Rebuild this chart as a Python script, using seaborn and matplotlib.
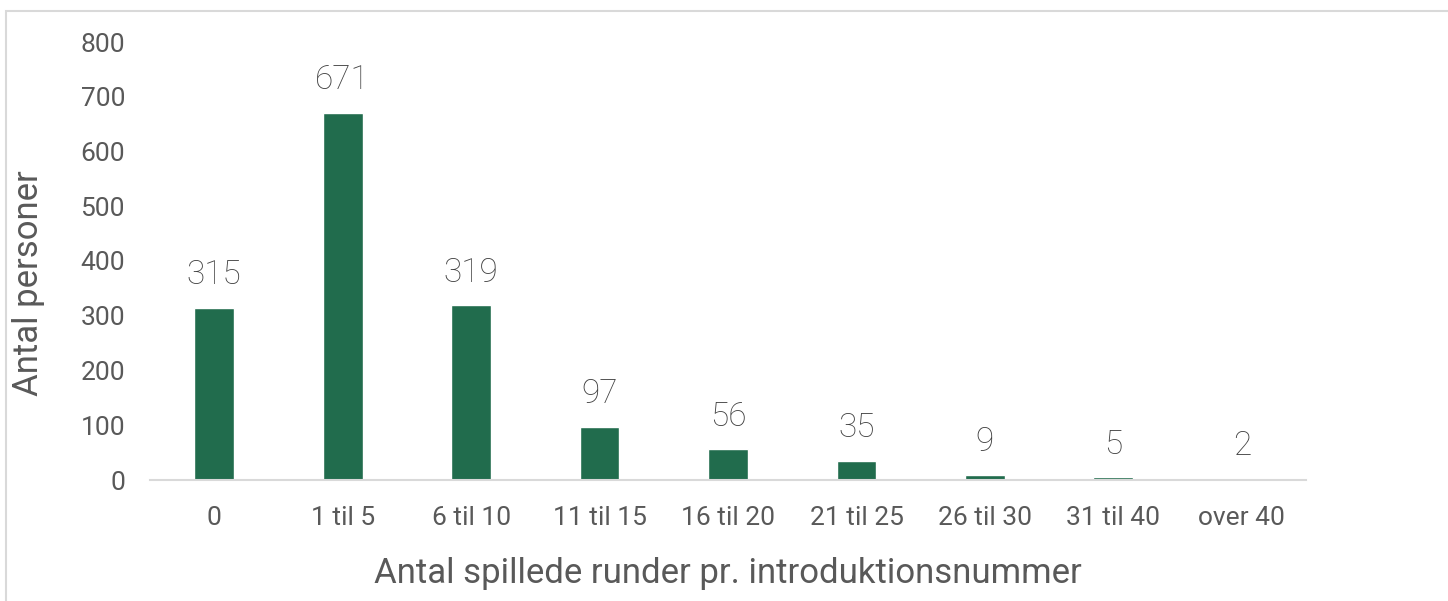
import matplotlib
matplotlib.use("Agg")
import matplotlib.pyplot as plt
import seaborn as sns
from matplotlib.patches import Rectangle

categories = ["0", "1 til 5", "6 til 10", "11 til 15", "16 til 20",
              "21 til 25", "26 til 30", "31 til 40", "over 40"]
persons = [315, 671, 319, 97, 56, 35, 9, 5, 2]
y_ticks = [0, 100, 200, 300, 400, 500, 600, 700, 800]

bar_color = "#216C4D"
text_grey = "#595959"
label_grey = "#404040"
line_grey = "#D9D9D9"

sns.set_theme(style="white")
plt.rcParams["font.family"] = ["Roboto", "DejaVu Sans"]

fig = plt.figure(figsize=(14.48, 6.01), dpi=100)
ax = fig.add_axes([150 / 1448, 121 / 601, 1156 / 1448, 438 / 601])

sns.barplot(x=categories, y=persons, color=bar_color, saturation=1,
            width=0.31, ax=ax)

# value labels above bars
ax.bar_label(ax.containers[0], labels=[str(v) for v in persons],
             padding=12, fontsize=24, color=label_grey, fontweight="light")

ax.set_ylim(0, 800)
ax.set_yticks(y_ticks)
ax.set_xlim(-0.5, len(categories) - 0.5)
ax.tick_params(axis="y", length=0, pad=18, labelsize=19, labelcolor=text_grey)
ax.tick_params(axis="x", length=0, pad=19, labelsize=19, labelcolor=text_grey)

for side in ["top", "right", "left"]:
    ax.spines[side].set_visible(False)
ax.spines["bottom"].set_color(line_grey)
ax.spines["bottom"].set_linewidth(1.5)

ax.set_ylabel("Antal personer", fontsize=25, color=text_grey)
ax.yaxis.set_label_coords(-0.091, 0.45)
ax.set_xlabel("Antal spillede runder pr. introduktionsnummer",
              fontsize=25, color=text_grey)
ax.xaxis.set_label_coords(0.5, -0.175)

# outer chart frame (cut off at right and bottom)
fig.patches.append(Rectangle((6 / 1448, -0.05), 1.1, (601 - 11) / 601 + 0.05,
                             transform=fig.transFigure, fill=False,
                             edgecolor=line_grey, linewidth=1.5,
                             clip_on=False))

fig.savefig("out.png", dpi=100)
